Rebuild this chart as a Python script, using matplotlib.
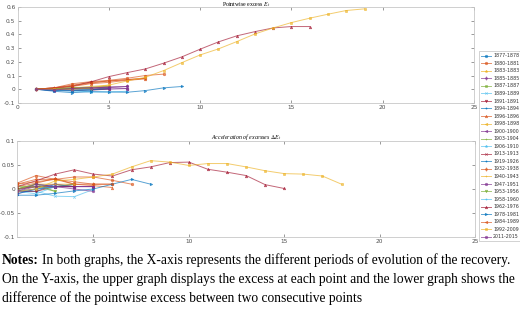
import numpy as np
import matplotlib
matplotlib.use("Agg")
import matplotlib.pyplot as plt

plt.rcParams["mathtext.fontset"] = "stix"

periods = ["1877-1878", "1880-1881", "1883-1883", "1885-1885", "1887-1887",
           "1889-1889", "1891-1891", "1894-1894", "1896-1896", "1898-1898",
           "1900-1900", "1903-1904", "1906-1910", "1913-1913", "1919-1926",
           "1932-1938", "1940-1943", "1947-1951", "1953-1956", "1958-1960",
           "1962-1976", "1978-1981", "1984-1989", "1992-2009", "2011-2015"]

# pointwise excess E_t, one list per period (x = 1, 2, ...)
excess = [
    [0, -0.005, -0.01, 0.0, 0.01],
    [0, 0.01, 0.04, 0.055, 0.065, 0.08, 0.1, 0.11],
    [0, 0.0, 0.005, 0.01, 0.02],
    [0, -0.005, 0.0, 0.01, 0.015, 0.02],
    [0, 0.0, 0.005, 0.01],
    [0, -0.005, -0.01, -0.02, -0.02, -0.015],
    [0, -0.005, -0.01, -0.005, 0.0],
    [0, 0.0, 0.01, 0.015, 0.02],
    [0, 0.005, 0.02, 0.04, 0.05, 0.065, 0.075],
    [0, 0.0, 0.005, 0.01, 0.02],
    [0, -0.01, -0.01, -0.005, 0.0, 0.005],
    [0, 0.005, 0.01, 0.005],
    [0, -0.005, -0.015, -0.01],
    [0, -0.005, -0.005, 0.0, 0.005],
    [0, -0.01, -0.01, -0.005, 0.005],
    [0, 0.01, 0.03, 0.05, 0.06, 0.07, 0.08],
    [0, 0.0, 0.01, 0.02, 0.03],
    [0, 0.0, 0.005, 0.01, 0.01, 0.005],
    [0, 0.0, 0.01, 0.005],
    [0, -0.005, -0.005, 0.0],
    [0, 0.01, 0.022, 0.053, 0.092, 0.121, 0.148, 0.19, 0.236, 0.292, 0.345,
     0.389, 0.42, 0.447, 0.457, 0.457],
    [0, -0.015, -0.025, -0.018, -0.02, -0.022, -0.01, 0.01, 0.02],
    [0, 0.01, 0.025, 0.045, 0.06, 0.07, 0.08],
    [0, 0.0, 0.0, 0.01, 0.03, 0.06, 0.087, 0.136, 0.194, 0.25, 0.294, 0.347,
     0.403, 0.447, 0.486, 0.518, 0.547, 0.574, 0.586],
    [0, -0.005, 0.005, 0.01, 0.015, 0.02],
]

# acceleration of excesses (difference between consecutive points)
accel = [
    [-0.005, -0.005, 0.01, 0.005],
    [0.012, 0.028, 0.02, 0.025, 0.025, 0.018, 0.01],
    [0.0, 0.005, 0.005, 0.01],
    [-0.005, 0.005, 0.01, 0.005, 0.005],
    [0.0, 0.005, 0.005],
    [-0.005, -0.005, -0.015, -0.016, -0.001],
    [-0.005, -0.005, 0.005, 0.005],
    [0.0, 0.01, 0.005, 0.005],
    [0.005, 0.012, 0.022, 0.01, 0.007, 0.003],
    [0.0, 0.005, 0.005, 0.01],
    [-0.01, 0.0, 0.005, 0.005, 0.005],
    [0.005, 0.005, -0.005],
    [-0.005, -0.01, 0.005],
    [-0.005, 0.0, 0.005, 0.005],
    [-0.01, 0.0, 0.005, 0.01],
    [0.01, 0.02, 0.02, 0.01, 0.01, 0.01],
    [0.0, 0.01, 0.01, 0.01],
    [0.0, 0.005, 0.005, 0.0, -0.005],
    [0.0, 0.01, -0.005],
    [-0.005, 0.0, 0.005],
    [0.005, 0.017, 0.031, 0.04, 0.031, 0.027, 0.04, 0.046, 0.055, 0.056,
     0.041, 0.035, 0.028, 0.009, 0.001],
    [-0.013, -0.013, -0.009, -0.004, 0.0, 0.01, 0.02, 0.01],
    [0.01, 0.015, 0.02, 0.015, 0.01, 0.01],
    [-0.005, 0.0, 0.017, 0.02, 0.025, 0.031, 0.046, 0.059, 0.056, 0.049,
     0.053, 0.053, 0.046, 0.038, 0.032, 0.031, 0.027, 0.01],
    [-0.005, 0.01, 0.005, 0.005, 0.005],
]

notes = [
    "In both graphs, the X-axis represents the different periods of evolution of the recovery.",
    "On the Y-axis, the upper graph displays the excess at each point and the lower graph shows the",
    "difference of the pointwise excess between two consecutive points",
]

COLORS = ["#0072BD", "#D95319", "#EDB120", "#7E2F8E", "#77AC30", "#4DBEEE", "#A2142F"]
MARKERS = ["o", "o", "*", "d", "s", "x", "v", ".", "^", "<", "<", "+", "*", "x",
           ".", "d", "+", "o", "v", ".", "^", ">", "<", "s", "o"]

fig = plt.figure(figsize=(5.2, 3.11), dpi=100)
ax1 = fig.add_axes([0.0337, 0.669, 0.878, 0.3087])
ax2 = fig.add_axes([0.0327, 0.238, 0.881, 0.3087])

handles = []
for i, lab in enumerate(periods):
    c = COLORS[i % 7]
    kw = dict(color=c, lw=0.7, alpha=0.65, marker=MARKERS[i], ms=1.8, mew=0.5)
    y1 = excess[i]
    h, = ax1.plot(np.arange(1, len(y1) + 1), y1, label=lab, **kw)
    y2 = accel[i]
    ax2.plot(np.arange(1, len(y2) + 1), y2, **kw)
    handles.append(h)

tick_col = "#4d4d4d"
for ax in (ax1, ax2):
    ax.tick_params(labelsize=4.2, colors=tick_col, direction="in", length=2,
                   width=0.4, top=True, right=True, pad=1.5)
    for s in ax.spines.values():
        s.set_color("#c8c8c8")
        s.set_linewidth(0.6)

ax1.set_xlim(0, 25)
ax1.set_xticks([0, 5, 10, 15, 20, 25])
ax1.set_ylim(-0.1, 0.6)
ax1.set_yticks(np.arange(-0.1, 0.61, 0.1))
ax1.set_yticklabels(["-0.1", "0", "0.1", "0.2", "0.3", "0.4", "0.5", "0.6"])
ax1.set_title(r"Pointwise excess $E_t$", fontsize=4.2, family="Liberation Serif", pad=0.8)

ax2.set_xlim(1, 25)
ax2.set_xticks([5, 10, 15, 20, 25])
ax2.set_ylim(-0.1, 0.1)
ax2.set_yticks([-0.1, -0.05, 0, 0.05, 0.1])
ax2.set_yticklabels(["-0.1", "-0.05", "0", "0.05", "0.1"])
ax2.set_title(r"Acceleration of excesses $\Delta E_t$", fontsize=4.2,
              family="Liberation Serif", style="italic", pad=1.5)

leg = fig.legend(handles=handles, loc="upper left", bbox_to_anchor=(0.921, 0.835),
                 fontsize=3.4, frameon=True, handlelength=2.2, handletextpad=0.4,
                 labelspacing=0.54, borderpad=0.4, borderaxespad=0, fancybox=False,
                 edgecolor="#b0b0b0")
leg.get_frame().set_linewidth(0.5)
for t in leg.get_texts():
    t.set_color("#333333")

# notes below the graphs
fs = 9.75
t0 = fig.text(0.003, 0.151, "Notes:", fontsize=fs, family="Liberation Serif",
              weight="bold", va="baseline")
fig.canvas.draw()
x_end = fig.transFigure.inverted().transform(
    t0.get_window_extent(fig.canvas.get_renderer()).get_points())[1, 0]
fig.text(x_end + 0.007, 0.151, notes[0], fontsize=fs, family="Liberation Serif", va="baseline")
fig.text(0.003, 0.090, notes[1], fontsize=fs, family="Liberation Serif", va="baseline")
fig.text(0.003, 0.029, notes[2], fontsize=fs, family="Liberation Serif", va="baseline")

fig.savefig("out.png", dpi=100)
